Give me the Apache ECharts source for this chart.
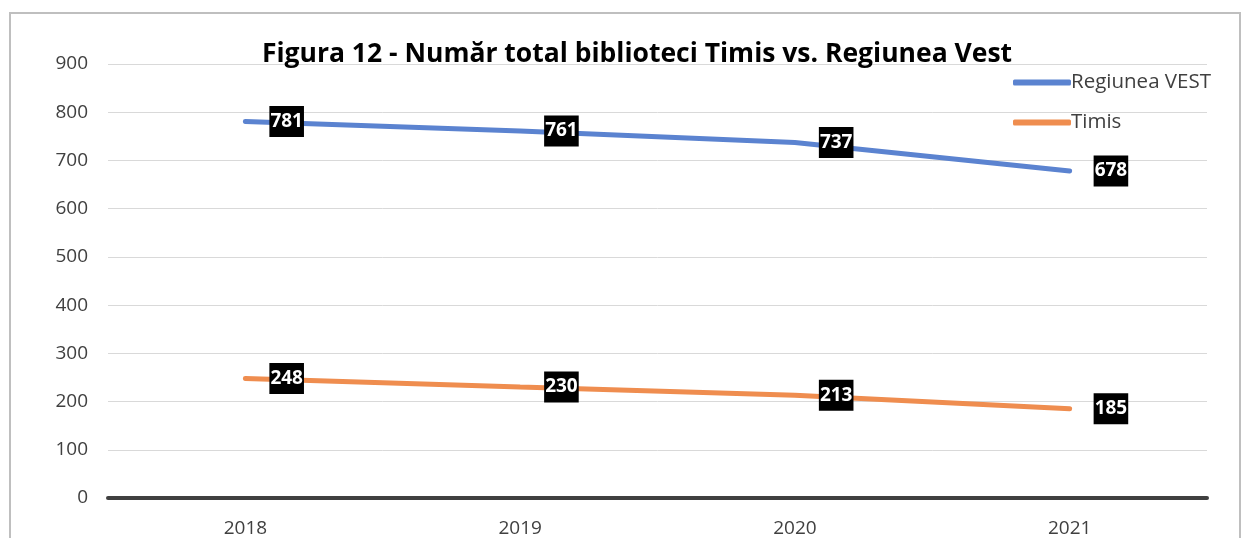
<!DOCTYPE html>
<html>
<head>
<meta charset="utf-8">
<script src="https://cdn.jsdelivr.net/npm/echarts@6/dist/echarts.min.js"></script>
<style>
  html, body { margin: 0; padding: 0; background: #fff; }
  #chart { width: 1246px; height: 538px; }
</style>
</head>
<body>
<div id="chart"></div>
<script>
var years = ['2018', '2019', '2020', '2021']
var regiuneaVest = [781, 761, 737, 678]
var timis = [248, 230, 213, 185]
var seriesNames = ['Regiunea VEST', 'Timis']

var myChart = echarts.init(document.getElementById('chart'))

var labelStyle = {
  show: true,
  position: 'right',
  distance: 24,
  color: '#fff',
  backgroundColor: '#000',
  fontFamily: 'Open Sans',
  fontWeight: 'bold',
  fontSize: 19,
  lineHeight: 26,
  padding: [3, 1, 2, 1]
}

var option = {
  animation: false,
  title: {
    text: 'Figura 12 - Număr total biblioteci Timis vs. Regiunea Vest',
    left: 632,
    textAlign: 'center',
    top: 36,
    textStyle: {
      fontFamily: 'Open Sans',
      fontWeight: 'bold',
      fontSize: 26.5,
      color: '#000'
    }
  },
  legend: {
    orient: 'vertical',
    left: 1008,
    top: 64,
    itemGap: 13,
    itemWidth: 58,
    itemHeight: 6,
    icon: 'roundRect',
    textStyle: { fontFamily: 'Open Sans', fontSize: 20.5, color: '#404040', padding: [0, 0, 0, -5], lineHeight: 27 },
    data: seriesNames
  },
  grid: {
    left: 108,
    right: 39,
    top: 64,
    bottom: 39
  },
  graphic: [{
    type: 'polyline',
    shape: { points: [[10, 538], [10, 13], [1240, 13], [1240, 538]] },
    style: { stroke: '#bfbfbf', lineWidth: 2, fill: null },
    silent: true
  }],
  xAxis: {
    type: 'category',
    data: years,
    boundaryGap: true,
    axisLine: { lineStyle: { color: '#404040', width: 4 } },
    axisTick: { show: false },
    axisLabel: { fontFamily: 'Open Sans', fontSize: 19, color: '#404040', margin: 21 }
  },
  yAxis: {
    type: 'value',
    min: 0,
    max: 900,
    interval: 100,
    axisLine: { show: false },
    axisTick: { show: false },
    axisLabel: { fontFamily: 'Open Sans', fontSize: 19, color: '#404040', margin: 20 },
    splitLine: { lineStyle: { color: '#d9d9d9', width: 1 } }
  },
  series: [
    {
      name: seriesNames[0],
      type: 'line',
      data: regiuneaVest,
      symbol: 'circle',
      symbolSize: 0,
      showSymbol: true,
      lineStyle: { width: 5, color: '#5b83d0', cap: 'round' },
      itemStyle: { color: '#5b83d0' },
      label: labelStyle
    },
    {
      name: seriesNames[1],
      type: 'line',
      data: timis,
      symbol: 'circle',
      symbolSize: 0,
      showSymbol: true,
      lineStyle: { width: 5, color: '#ef8d4f', cap: 'round' },
      itemStyle: { color: '#ef8d4f' },
      label: labelStyle
    }
  ]
}

myChart.setOption(option)
</script>
</body>
</html>
